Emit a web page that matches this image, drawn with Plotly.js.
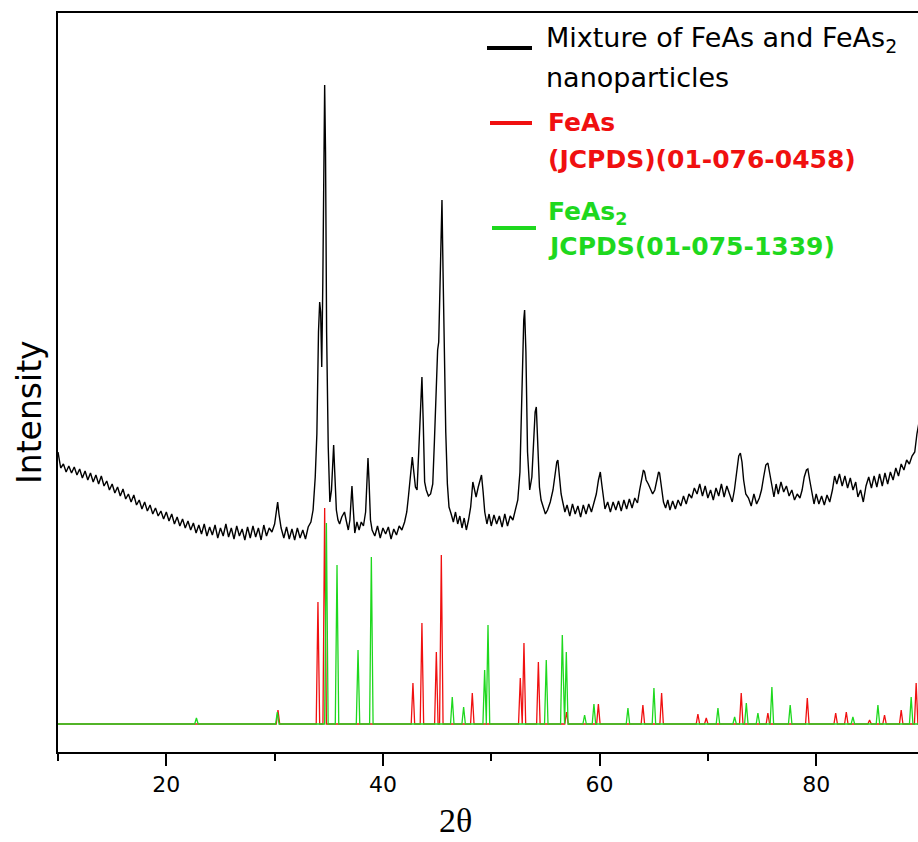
<!DOCTYPE html>
<html>
<head>
<meta charset="utf-8">
<script src="https://cdn.plot.ly/plotly-3.0.1.min.js"></script>
<style>html,body{margin:0;padding:0;background:#fff;overflow:hidden}</style>
</head>
<body>
<div id="chart" style="width:918px;height:842px"></div>
<script>
// ---- Measured XRD pattern (2θ in degrees, intensity in arbitrary units) ----
const xrdTwoTheta = [
 10.0,10.25,10.5,10.75,11.0,11.25,11.5,11.75,12.0,12.25,
 12.5,12.75,13.0,13.25,13.5,13.75,14.0,14.25,14.5,14.75,
 15.0,15.25,15.5,15.75,16.0,16.25,16.5,16.75,17.0,17.25,
 17.5,17.75,18.0,18.25,18.5,18.75,19.0,19.25,19.5,19.75,
 20.0,20.25,20.5,20.75,21.0,21.25,21.5,21.75,22.0,22.25,
 22.5,22.75,23.0,23.25,23.5,23.75,24.0,24.25,24.5,24.75,
 25.0,25.25,25.5,25.75,26.0,26.25,26.5,26.75,27.0,27.25,
 27.5,27.75,28.0,28.25,28.5,28.75,29.0,29.25,29.5,29.75,
 30.0,30.15,30.28,30.4,30.6,30.85,31.1,31.35,31.6,31.85,
 32.1,32.35,32.6,32.85,33.1,33.35,33.55,33.75,33.9,34.05,
 34.16,34.25,34.35,34.45,34.55,34.62,34.7,34.8,34.95,35.1,
 35.25,35.45,35.55,35.7,35.85,36.0,36.2,36.45,36.6,36.8,
 36.95,37.05,37.14,37.25,37.4,37.6,37.8,38.0,38.2,38.4,
 38.52,38.62,38.72,38.85,39.0,39.25,39.5,39.75,40.0,40.25,
 40.5,40.75,41.0,41.25,41.5,41.75,42.0,42.2,42.35,42.5,
 42.71,42.85,43.0,43.15,43.3,43.45,43.6,43.72,43.85,44.0,
 44.2,44.4,44.6,44.75,44.9,45.05,45.15,45.3,45.45,45.55,
 45.65,45.8,45.95,46.1,46.3,46.5,46.7,46.9,47.1,47.3,
 47.5,47.7,47.9,48.1,48.3,48.45,48.6,48.8,49.0,49.1,
 49.25,49.4,49.6,49.8,50.0,50.25,50.5,50.75,51.0,51.25,
 51.5,51.75,52.0,52.25,52.45,52.65,52.85,53.0,53.08,53.2,
 53.35,53.55,53.75,53.95,54.05,54.16,54.3,54.45,54.6,54.8,
 55.0,55.2,55.45,55.7,55.9,56.05,56.15,56.3,56.45,56.6,
 56.8,57.0,57.25,57.5,57.75,58.0,58.25,58.5,58.75,59.0,
 59.25,59.5,59.7,59.9,60.07,60.2,60.35,60.5,60.75,61.0,
 61.25,61.5,61.75,62.0,62.25,62.5,62.75,63.0,63.25,63.5,
 63.7,63.9,64.05,64.16,64.3,64.5,64.7,64.9,65.1,65.3,
 65.45,65.54,65.7,65.9,66.1,66.3,66.5,66.75,67.0,67.25,
 67.5,67.75,68.0,68.25,68.5,68.75,69.0,69.25,69.5,69.75,
 70.0,70.25,70.5,70.75,71.0,71.25,71.5,71.75,72.0,72.25,
 72.45,72.65,72.85,73.0,73.15,73.3,73.5,73.75,74.0,74.25,
 74.5,74.75,74.95,75.15,75.35,75.54,75.7,75.9,76.1,76.3,
 76.5,76.75,77.0,77.25,77.5,77.75,78.0,78.25,78.5,78.7,
 78.9,79.1,79.23,79.4,79.6,79.8,80.0,80.25,80.5,80.75,
 81.0,81.25,81.5,81.7,81.9,82.15,82.4,82.65,82.9,83.15,
 83.4,83.65,83.85,84.1,84.35,84.6,84.85,85.1,85.35,85.6,
 85.85,86.1,86.35,86.6,86.85,87.1,87.35,87.6,87.85,88.1,
 88.35,88.6,88.85,89.1,89.3,89.5
];
const xrdIntensity = [
 300,284,288,280,286,279,285,277,283,274,
 281,272,279,270,277,268,276,266,271,262,
 268,259,265,256,263,253,258,250,257,247,
 252,243,250,241,247,238,244,236,241,233,
 240,231,238,228,235,226,233,224,231,222,
 229,219,227,218,228,216,225,217,227,214,
 224,216,228,215,224,213,226,216,223,212,
 225,214,226,215,224,212,227,216,224,220,
 228,238,250,238,224,214,225,213,223,212,
 224,214,222,213,225,230,242,275,318,420,
 450,440,385,470,640,667,600,420,305,250,
 262,307,280,242,232,228,235,240,232,222,
 232,250,266,245,219,230,222,230,226,240,
 275,294,270,232,222,216,226,214,224,218,
 225,213,223,217,226,222,230,240,255,275,
 295,280,265,262,300,350,375,330,270,262,
 256,258,268,310,350,402,410,500,552,480,
 400,320,268,245,238,230,240,228,236,224,
 234,222,232,245,270,262,255,265,272,277,
 260,240,228,238,226,237,228,236,225,238,
 226,236,232,242,252,280,380,432,442,400,
 300,262,275,320,340,345,310,265,252,244,
 238,242,250,262,278,290,292,275,258,250,
 240,247,236,248,238,246,235,247,238,248,
 240,250,258,272,280,268,252,243,250,240,
 250,242,251,241,252,243,253,244,254,249,
 262,275,282,280,272,268,262,258,262,272,
 280,279,265,250,244,252,242,251,243,252,
 246,256,248,258,254,264,258,268,256,266,
 254,262,252,264,256,268,255,266,258,250,
 262,280,296,299,290,272,258,254,246,258,
 248,254,262,275,287,289,280,266,255,268,
 258,270,260,266,256,262,252,258,254,262,
 275,282,283,272,258,248,258,248,256,247,
 257,250,262,276,268,278,266,276,264,274,
 262,270,255,262,250,266,275,264,276,265,
 278,266,279,268,280,272,284,276,288,282,
 292,288,296,300,318,330
];

// ---- Reference card peaks: FeAs (JCPDS 01-076-0458) ----
const feAsPeakPos = [30.31,34.0,34.62,42.77,43.6,44.93,45.39,48.25,52.68,53.02,54.35,56.95,59.89,
  64.0,65.73,69.08,69.85,73.08,75.54,79.18,81.8,82.78,84.93,86.31,87.85,89.23];
const feAsPeakInt = [14,122,216,41,101,72,169,31,46,81,62,12,20,
  19,31,10,6,31,11,26,11,12,4,9,14,41];

// ---- Reference card peaks: FeAs2 (JCPDS 01-075-1339) ----
const feAs2PeakPos = [22.78,30.25,34.78,35.76,37.7,38.93,46.4,47.45,49.39,49.7,55.08,56.56,56.93,
  58.62,59.48,62.62,65.02,70.93,72.47,73.55,74.62,75.91,77.6,83.39,85.7,88.77];
const feAs2PeakInt = [6,12,201,159,74,167,27,17,54,99,64,89,72,
  9,20,16,36,16,7,21,11,37,19,7,19,27];

const refBaseline = 28;
const seriesNames = ['Mixture of FeAs and FeAs2 nanoparticles', 'FeAs (JCPDS)(01-076-0458)', 'FeAs2 JCPDS(01-075-1339)'];
const xTickVals = [20, 40, 60, 80];

// stick-pattern profile built from the card peak list
function stickProfile(pos, hts, base, xmin, xmax) {
  const xs = [xmin], ys = [base];
  for (let i = 0; i < pos.length; i++) {
    xs.push(pos[i] - 0.16, pos[i], pos[i] + 0.16);
    ys.push(base, base + hts[i], base);
  }
  xs.push(xmax); ys.push(base);
  return {xs, ys};
}
const red = stickProfile(feAsPeakPos, feAsPeakInt, refBaseline, 10, 90);
const grn = stickProfile(feAs2PeakPos, feAs2PeakInt, refBaseline, 10, 90);

const RED = '#f01010', GREEN = '#1ed81e';

const traces = [
  {x: xrdTwoTheta, y: xrdIntensity, type: 'scatter', mode: 'lines', name: seriesNames[0],
   line: {color: '#000', width: 1.4}},
  {x: red.xs, y: red.ys, type: 'scatter', mode: 'lines', name: seriesNames[1],
   line: {color: RED, width: 1.3}},
  {x: grn.xs, y: grn.ys, type: 'scatter', mode: 'lines', name: seriesNames[2],
   line: {color: GREEN, width: 1.3}}
];

// pixel -> paper helpers (plot area: left 58, width 860, bottom 752, height 739)
const fx = p => (p - 58) / 860;
const fy = p => (752 - p) / 739;

const legFont = {family: 'DejaVu Sans', size: 27, color: '#000'};
const redFont = {family: 'DejaVu Sans', size: 25, color: RED, weight: 'bold'};
const grnFont = {family: 'DejaVu Sans', size: 25, color: GREEN, weight: 'bold'};
function lab(text, x, y, font) {
  return {text, x: fx(x), y: fy(y), xref: 'paper', yref: 'paper', xanchor: 'left', yanchor: 'middle',
          showarrow: false, borderpad: 0, font};
}

const layout = {
  width: 918, height: 842,
  margin: {l: 58, r: 0, t: 13, b: 90},
  paper_bgcolor: '#fff', plot_bgcolor: '#fff',
  showlegend: false,
  xaxis: {
    range: [10, 89.4], showgrid: false, zeroline: false,
    showline: true, linecolor: '#000', linewidth: 2, mirror: true,
    ticks: 'outside', ticklen: 12, tickwidth: 2, tickcolor: '#000',
    tickmode: 'array', tickvals: xTickVals,
    tickfont: {family: 'DejaVu Sans', size: 22, color: '#000'},
    minor: {ticks: 'outside', ticklen: 7, tickwidth: 2, tickcolor: '#000', dtick: 10, tick0: 0, showgrid: false}
  },
  yaxis: {
    range: [0, 739], showgrid: false, zeroline: false,
    showline: true, linecolor: '#000', linewidth: 2, mirror: false,
    ticks: '', showticklabels: false
  },
  shapes: [
    {type: 'line', xref: 'paper', yref: 'paper', x0: fx(487), x1: fx(532), y0: fy(48), y1: fy(48), line: {color: '#000', width: 4}},
    {type: 'line', xref: 'paper', yref: 'paper', x0: fx(490), x1: fx(532), y0: fy(123), y1: fy(123), line: {color: RED, width: 4}},
    {type: 'line', xref: 'paper', yref: 'paper', x0: fx(492), x1: fx(536), y0: fy(228), y1: fy(228), line: {color: GREEN, width: 4}}
  ],
  annotations: [
    lab('Mixture of FeAs and FeAs<sub>2</sub>', 545, 39, legFont),
    lab('nanoparticles', 545, 77, legFont),
    lab('FeAs', 547, 123, redFont),
    lab('(JCPDS)(01-076-0458)', 547, 159, redFont),
    lab('FeAs<sub>2</sub>', 547, 213, grnFont),
    lab('JCPDS(01-075-1339)', 547, 246, grnFont),
    {text: 'Intensity', textangle: -90, x: fx(29), y: fy(412), xref: 'paper', yref: 'paper',
     xanchor: 'center', yanchor: 'middle', showarrow: false, borderpad: 0,
     font: {family: 'DejaVu Sans', size: 33, color: '#000'}},
    {text: '2θ', x: fx(455), y: fy(820), xref: 'paper', yref: 'paper',
     xanchor: 'center', yanchor: 'middle', showarrow: false, borderpad: 0,
     font: {family: 'Liberation Serif', size: 34, color: '#000'}}
  ]
};

Plotly.newPlot('chart', traces, layout, {staticPlot: true, displayModeBar: false});
</script>
</body>
</html>
